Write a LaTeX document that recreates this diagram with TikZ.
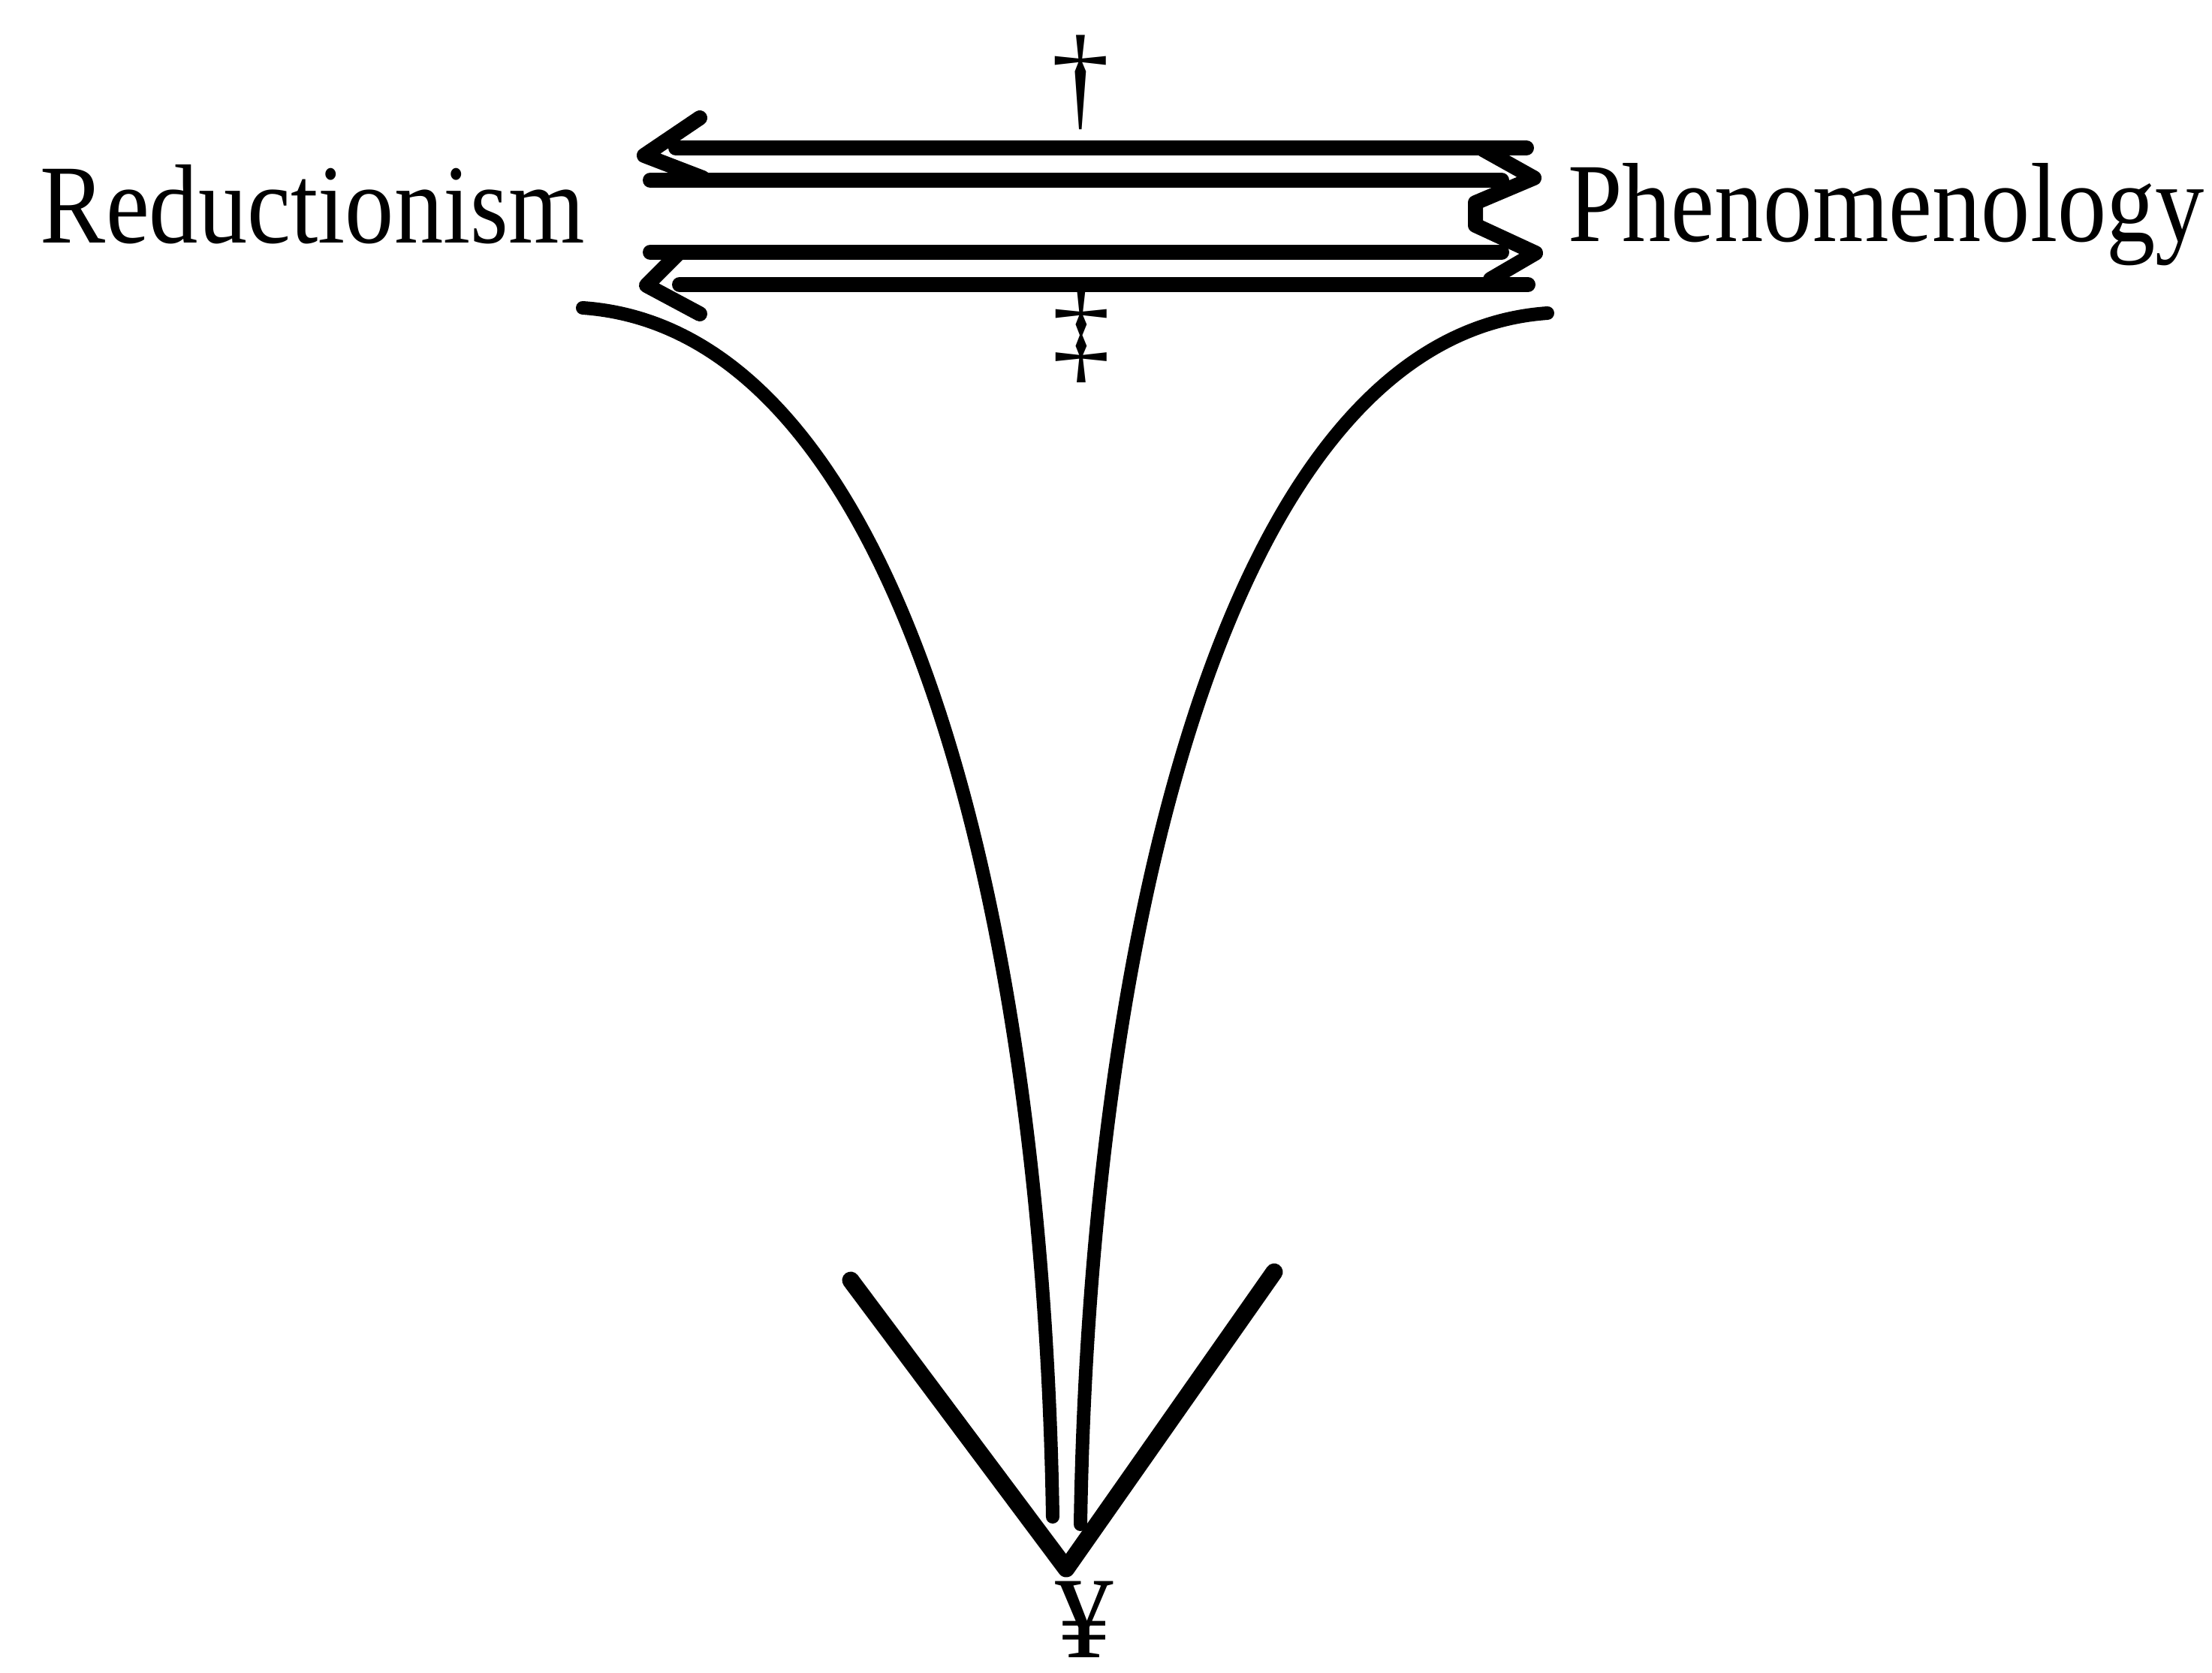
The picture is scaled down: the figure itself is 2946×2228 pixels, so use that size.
\documentclass[tikz,border=0pt]{standalone}
\usepackage{fontspec}
\setmainfont{Liberation Serif}
\usepackage{graphicx}
\usepackage{tikz}
\usetikzlibrary{positioning,calc}

\newcommand{\narrow}[1]{\scalebox{0.87}[1]{#1}}

\begin{document}
\begin{tikzpicture}[
  x=0.1pt, y=-0.1pt,
  word/.style={font=\fontsize{15}{18}\selectfont, inner sep=0pt},
  sym/.style={font=\fontsize{15.5}{18}\selectfont, inner sep=0pt},
  dbl/.style={line width=2pt, line cap=round, line join=round},
  stem/.style={line width=1.8pt, line cap=round},
  vee/.style={line width=2.3pt, line cap=round, line join=round},
]
\useasboundingbox (0,0) rectangle (2946,2228);

% Labels
\node[word, anchor=base west] (red) at (52,324) {\narrow{Reductionism}};
\node[word, anchor=base west] (phen) at (2086,322) {\narrow{Phenomenology}};
\node[sym, anchor=base] (dag) at (1439,155) {†};
\node[sym, anchor=base] (ddag) at (1440,492) {‡};
\node[sym, anchor=base] (yen) at (1444,2208) {¥};

% Upper double arrow
\coordinate (ua) at (858,207);
\draw[dbl] (932,157) -- (ua) -- (936,237);
\draw[dbl] (900,197) -- (2033,197);
\draw[dbl] (866,240) -- (2000,240);

% Lower double arrow
\coordinate (la) at (861,380);
\draw[dbl] (903,338) -- (la) -- (932,418);
\draw[dbl] (866,336) -- (2000,336);
\draw[dbl] (905,379) -- (2035,379);

% Zigzag at the right end
\draw[dbl] (1975,199) -- (2043,237) -- (1965,270)
  -- (1965,300) -- (2045,337) -- (1985,372);

% Converging curves
\coordinate (lc) at (776,410);
\coordinate (rc) at (2061,417);
\coordinate (lb) at (1402,2020);
\coordinate (rb) at (1439,2030);
\draw[stem] (lc) .. controls (1210,440) and (1390,1250) .. (lb);
\draw[stem] (rc) .. controls (1630,447) and (1451,1260) .. (rb);

% Arrow head
\coordinate (tip) at (1420,2089);
\draw[vee] (1133,1705) -- (tip) -- (1697,1694);

\end{tikzpicture}
\end{document}
